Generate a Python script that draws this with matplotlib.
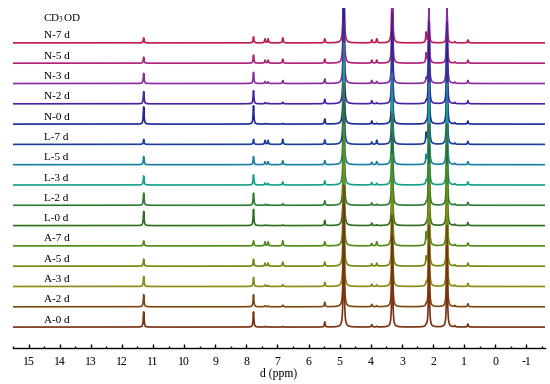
import numpy as np
import matplotlib.pyplot as plt

plt.rcParams['font.family'] = ['Liberation Serif', 'DejaVu Serif']
plt.rcParams['mathtext.fontset'] = 'stix'

# Sample names, top to bottom
samples = ["N-7 d", "N-5 d", "N-3 d", "N-2 d", "N-0 d",
           "L-7 d", "L-5 d", "L-3 d", "L-2 d", "L-0 d",
           "A-7 d", "A-5 d", "A-3 d", "A-2 d", "A-0 d"]

colors = ["#c01a55", "#b0207a", "#8a2a9c", "#4a22a0", "#1c2a98",
          "#1a3f9a", "#1b7fa2", "#15a08a", "#2e7d32", "#2f6e1e",
          "#4f8a18", "#6f8a10", "#8a8a12", "#7a4a12", "#7a3212"]

# Peak positions (ppm) and heights (in units of trace spacing) per sample
peak_ppm = [11.30, 7.77, 7.40, 7.30, 6.83, 5.48, 4.87, 3.97, 3.81,
            3.31, 2.22, 2.13, 1.55, 1.30, 0.88]

peak_height = [
    # 11.3  7.77  7.40  7.30  6.83  5.48  4.87 3.97  3.81  3.31 2.22 2.13 1.55 1.30 0.88
    [0.25, 0.30, 0.20, 0.20, 0.25, 0.20, 6.0, 0.15, 0.20, 4.5, 0.50, 1.55, 1.70, 0.06, 0.15],
    [0.30, 0.40, 0.15, 0.15, 0.20, 0.20, 6.0, 0.15, 0.15, 4.5, 0.45, 2.50, 2.50, 0.06, 0.15],
    [0.50, 0.55, 0.10, 0.08, 0.15, 0.22, 6.0, 0.15, 0.10, 4.5, 0.20, 4.00, 4.00, 0.06, 0.15],
    [0.60, 0.65, 0.06, 0.04, 0.08, 0.22, 6.0, 0.15, 0.05, 4.5, 0.10, 4.00, 4.00, 0.06, 0.15],
    [0.85, 0.90, 0.03, 0.02, 0.03, 0.25, 6.0, 0.15, 0.04, 4.5, 0.08, 4.00, 4.00, 0.06, 0.15],
    [0.25, 0.25, 0.20, 0.20, 0.25, 0.22, 6.0, 0.12, 0.20, 4.5, 0.50, 4.00, 4.00, 0.06, 0.15],
    [0.40, 0.40, 0.15, 0.15, 0.20, 0.20, 6.0, 0.12, 0.15, 4.5, 0.40, 4.00, 4.00, 0.06, 0.15],
    [0.45, 0.50, 0.10, 0.08, 0.15, 0.20, 6.0, 0.12, 0.08, 4.5, 0.15, 4.00, 4.00, 0.06, 0.15],
    [0.60, 0.60, 0.05, 0.04, 0.08, 0.22, 6.0, 0.12, 0.05, 4.5, 0.10, 4.00, 4.00, 0.06, 0.15],
    [0.70, 0.80, 0.03, 0.02, 0.03, 0.25, 6.0, 0.12, 0.04, 4.5, 0.08, 4.00, 4.00, 0.06, 0.15],
    [0.25, 0.25, 0.20, 0.20, 0.25, 0.20, 6.0, 0.12, 0.20, 4.5, 0.60, 4.00, 4.00, 0.06, 0.15],
    [0.35, 0.35, 0.15, 0.15, 0.20, 0.20, 6.0, 0.12, 0.15, 4.5, 0.40, 4.00, 4.00, 0.06, 0.15],
    [0.50, 0.45, 0.08, 0.06, 0.10, 0.20, 6.0, 0.12, 0.08, 4.5, 0.15, 4.00, 4.00, 0.06, 0.15],
    [0.60, 0.60, 0.05, 0.04, 0.08, 0.22, 6.0, 0.12, 0.05, 4.5, 0.10, 4.00, 4.00, 0.06, 0.15],
    [0.75, 0.75, 0.03, 0.02, 0.03, 0.25, 6.0, 0.12, 0.04, 4.5, 0.08, 4.00, 4.00, 0.06, 0.15],
]

ticks = np.arange(-1, 16)


def spectrum(ppm, heights, hwhm=0.015):
    """Sum of Lorentzian lines with the given positions and heights"""
    y = np.zeros_like(ppm)
    for pos, h in zip(peak_ppm, heights):
        y += h * hwhm**2 / ((ppm - pos)**2 + hwhm**2)
    return y


fig = plt.figure(figsize=(5.5, 3.84), dpi=100)
ax = fig.add_axes([13 / 550, 36 / 384, 532 / 550, 340 / 384])

ppm = np.linspace(15.6, -1.7, 20000)
n = len(samples)

# Draw top trace first so the lower traces sit on top of the tall peaks
for i, (name, col, heights) in enumerate(zip(samples, colors, peak_height)):
    offset = n - 1 - i
    ax.plot(ppm, spectrum(ppm, heights) + offset, color=col, lw=1.2)
    ax.text(14.49, offset + 0.12, name, fontsize=8, ha="left", va="bottom")

ax.text(14.55, 15.2, "CD$_3$OD", fontsize=8, ha="left", va="center")

ax.set_xlim(15.5, -1.6)
ax.set_ylim(-1.03, 15.72)

for s in ["top", "left", "right"]:
    ax.spines[s].set_visible(False)
ax.spines["bottom"].set_linewidth(1.0)
ax.set_yticks([])
ax.set_xticks(ticks)
ax.set_xticklabels([str(t) for t in ticks])
ax.set_xticks(np.arange(-1.5, 15.6, 1.0), minor=True)
ax.tick_params(axis="x", direction="in", length=3, width=1.0, labelsize=8.5, pad=6)
ax.tick_params(axis="x", which="minor", direction="in", length=1.5, width=1.0)
ax.set_xlabel("d (ppm)", fontsize=8.5, labelpad=0)

fig.savefig("out.png", dpi=100)
